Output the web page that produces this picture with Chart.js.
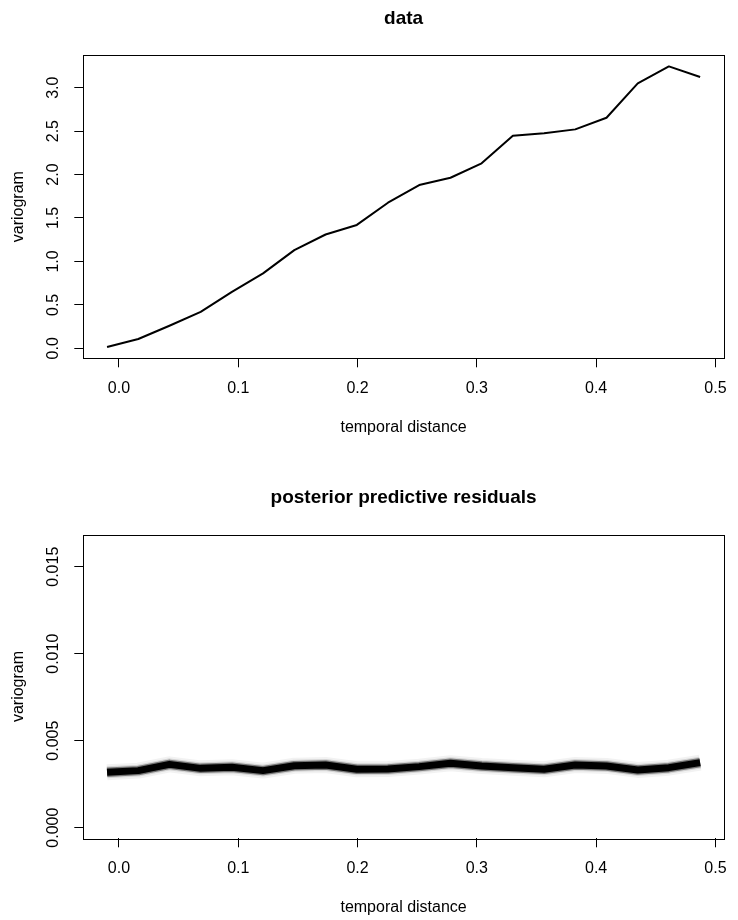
<!DOCTYPE html>
<html>
<head>
<meta charset="utf-8">
<script src="https://cdn.jsdelivr.net/npm/chart.js@4.4.1/dist/chart.umd.min.js"></script>
<style>
  html, body { margin: 0; padding: 0; background: #fff; }
  .panel { width: 738px; height: 460px; }
  canvas { display: block; }
</style>
</head>
<body>
<div class="panel"><canvas id="chartData" width="738" height="460"></canvas></div>
<div class="panel"><canvas id="chartResid" width="738" height="460"></canvas></div>
<script>
// temporal lags (x)
const lags = [-0.0100, 0.0162, 0.0423, 0.0685, 0.0947, 0.1208, 0.1470, 0.1732, 0.1994, 0.2255,
              0.2517, 0.2779, 0.3040, 0.3302, 0.3564, 0.3825, 0.4087, 0.4349, 0.4610, 0.4872];
// empirical variogram of the data
const variogramData = [0.014, 0.107, 0.26, 0.42, 0.65, 0.863, 1.13, 1.31, 1.42, 1.676,
                       1.879, 1.963, 2.129, 2.447, 2.474, 2.52, 2.654, 3.05, 3.245, 3.122];
// variogram of posterior predictive residuals
const variogramResid = [0.00318, 0.00328, 0.00364, 0.00341, 0.00347, 0.00328, 0.00356, 0.00360, 0.00336, 0.00337,
                        0.00351, 0.00370, 0.00355, 0.00345, 0.00336, 0.00360, 0.00355, 0.00332, 0.00345, 0.00374];
const xTicks = [0, 0.1, 0.2, 0.3, 0.4, 0.5];
const yTicksData = [0, 0.5, 1, 1.5, 2, 2.5, 3];
const yTicksResid = [0, 0.005, 0.010, 0.015];

const FONT = '"Liberation Sans", Arial, Helvetica, sans-serif';

function rFrame(opts) {
  return {
    id: 'rFrame',
    afterDraw(chart) {
      const {ctx, chartArea: a, scales} = chart;
      ctx.save();
      ctx.strokeStyle = '#000';
      ctx.lineWidth = 1;
      ctx.strokeRect(Math.round(a.left) + 0.5, Math.round(a.top) + 0.5,
                     Math.round(a.right - a.left), Math.round(a.bottom - a.top));
      ctx.fillStyle = '#000';
      ctx.textAlign = 'center';
      ctx.textBaseline = 'middle';
      const cx = (a.left + a.right) / 2;
      ctx.font = 'bold 19px ' + FONT;
      ctx.fillText(opts.title, cx, a.top - 36.5);
      ctx.font = '16px ' + FONT;
      ctx.fillText('temporal distance', cx, a.bottom + 69);
      ctx.save();
      ctx.translate(18.3, (a.top + a.bottom) / 2);
      ctx.rotate(-Math.PI / 2);
      ctx.fillText('variogram', 0, 0);
      ctx.restore();
      scales.y.ticks.forEach(t => {
        const py = scales.y.getPixelForValue(t.value);
        ctx.save();
        ctx.translate(53.3, py);
        ctx.rotate(-Math.PI / 2);
        ctx.fillText(t.value.toFixed(opts.digits), 0, 0);
        ctx.restore();
      });
      ctx.restore();
    }
  };
}

function makeChart(id, cfg) {
  const xScale = {
    type: 'linear',
    min: -0.0299, max: 0.5071,
    afterBuildTicks: s => { s.ticks = xTicks.map(v => ({value: v})); },
    afterFit: s => { s.height = 460 - cfg.boxBottom; },
    border: {display: false},
    grid: {drawOnChartArea: false, drawTicks: true, tickLength: 9, color: '#000', lineWidth: 1},
    ticks: {
      autoSkip: false, maxRotation: 0, minRotation: 0, padding: 11.4,
      color: '#000', font: {family: FONT, size: 16},
      callback: v => v.toFixed(1)
    }
  };
  const yScale = {
    type: 'linear',
    min: cfg.yMin, max: cfg.yMax,
    afterBuildTicks: s => { s.ticks = cfg.yTicks.map(v => ({value: v})); },
    afterFit: s => { s.width = 83.3; },
    border: {display: false},
    grid: {drawOnChartArea: false, drawTicks: true, tickLength: 9, color: '#000', lineWidth: 1},
    ticks: {display: false}
  };
  return new Chart(document.getElementById(id), {
    type: 'line',
    data: {datasets: cfg.datasets},
    options: {
      responsive: false,
      animation: false,
      layout: {padding: {top: cfg.boxTop, right: 5.7, bottom: 0, left: 0}},
      plugins: {legend: {display: false}, tooltip: {enabled: false}},
      scales: {x: xScale, y: yScale}
    },
    plugins: [rFrame({title: cfg.title, digits: cfg.digits})]
  });
}

const ptsData = lags.map((x, i) => ({x: x, y: variogramData[i]}));
const ptsResid = lags.map((x, i) => ({x: x, y: variogramResid[i]}));

function lineSet(points, width, color) {
  return {
    data: points, borderColor: color, borderWidth: width,
    pointRadius: 0, tension: 0, borderJoinStyle: 'round', fill: false
  };
}

makeChart('chartData', {
  title: 'data',
  boxTop: 55, boxBottom: 358.3,
  yMin: -0.115, yMax: 3.376,
  yTicks: yTicksData, digits: 1,
  datasets: [lineSet(ptsData, 2, '#000')]
});

makeChart('chartResid', {
  title: 'posterior predictive residuals',
  boxTop: 74.7, boxBottom: 378.3,
  yMin: -0.00061, yMax: 0.01684,
  yTicks: yTicksResid, digits: 3,
  datasets: [
    lineSet(ptsResid, 16, 'rgba(0,0,0,0.05)'),
    lineSet(ptsResid, 12, 'rgba(0,0,0,0.12)'),
    lineSet(ptsResid, 9.5, 'rgba(0,0,0,0.45)'),
    lineSet(ptsResid, 7, '#000')
  ]
});
</script>
</body>
</html>
